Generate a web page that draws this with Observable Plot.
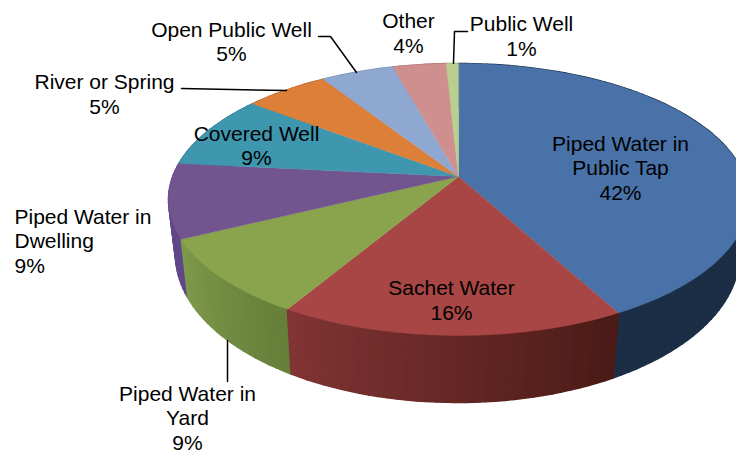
<!DOCTYPE html>
<html>
<head>
<meta charset="utf-8">
<script src="https://cdn.jsdelivr.net/npm/d3@7"></script>
<script src="https://cdn.jsdelivr.net/npm/@observablehq/plot@0.6"></script>
<style>
html,body{margin:0;padding:0;background:#fff;overflow:hidden}
svg{display:block}
</style>
</head>
<body>
<div id="chart"></div>
<script>
// Chart content
const categories = ["Piped Water in\nPublic Tap","Sachet Water","Piped Water in\nYard","Piped Water in\nDwelling","Covered Well","River or Spring","Open Public Well","Other","Public Well"];
const percentLabels = ["42%","16%","9%","9%","9%","5%","5%","4%","1%"];
const sliceShares = [42.1,16.45,9.2,8.85,8.8,5.5,4.8,3.5,0.8];

// Styling
const topColors = ["#4872a8","#a74644","#89a44c","#72548f","#3e96af","#dc7f39","#8fa8d2","#cf8f8e","#b9cf8f"];
const wallStart = ["#1b2e45","#4a1a16","#657f3a","#604789","#2f7a90","#b5662a","#7088b0","#a87070","#93a870"];
const wallEnd   = ["#1b2e45","#813534","#7f9a4b","#604789","#2f7a90","#b5662a","#7088b0","#a87070","#93a870"];

// Layout of the tilted disc, in pixels of the picture
const disc = {cx:458, cy:199, rx:290, ry:136, apexY:176};
const base = {cx:457, cy:254, rx:282, ry:148};
const labelLayout = [
  {x:620,y:167,anchor:"middle"},
  {x:451,y:299,anchor:"middle"},
  {x:187,y:417,anchor:"middle"},
  {x:14, y:240,anchor:"start"},
  {x:256,y:144.5,anchor:"middle"},
  {x:104,y:93, anchor:"middle"},
  {x:231,y:40.5,anchor:"middle"},
  {x:408,y:32, anchor:"middle"},
  {x:521,y:35, anchor:"middle"}
];
const leaderLayout = [
  [[181,88],[286,90]],
  [[318,36],[330,36],[356,72]],
  [[467,31],[454,31],[453,63]],
  [[227,340],[227,381]]
];

// Perspective mapping from the share of the pie to a point on the rim
const d = disc.apexY - disc.cy;
const c = d / disc.ry;
const a = disc.rx * Math.sqrt(1 - (d / disc.ry) ** 2);
function project(phi, r = 1) {
  const u = r * Math.sin(phi), v = -r * Math.cos(phi);
  const w = 1 + c * v;
  return {x: disc.cx + a * u / w, y: disc.cy + (disc.ry * v + d) / w};
}
function baseOf(p) {
  const th = Math.atan2((p.x - disc.cx) / disc.rx, -(p.y - disc.cy) / disc.ry);
  return {x: base.cx + base.rx * Math.sin(th), y: base.cy - base.ry * Math.cos(th)};
}

const total = d3.sum(sliceShares);
const cumulative = d3.cumsum(sliceShares);
const topPts = [], wallPts = [];
sliceShares.forEach((s, i) => {
  const end = cumulative[i] / total * 2 * Math.PI;
  const start = end - s / total * 2 * Math.PI;
  const n = Math.max(2, Math.ceil((end - start) / 0.01));
  const apex = project(0, 0);
  topPts.push({...apex, id:i, color:topColors[i]});
  for (let k = 0; k <= n; k++) {
    const p = project(start + (end - start) * k / n);
    topPts.push({...p, id:i, color:topColors[i]});
  }
  const mix = d3.interpolateRgb(wallStart[i], wallEnd[i]);
  const m = Math.max(1, Math.ceil((end - start) / 0.03));
  for (let k = 0; k < m; k++) {
    const p0 = project(start + (end - start) * k / m);
    const p1 = project(start + (end - start) * (k + 1) / m);
    const b0 = baseOf(p0), b1 = baseOf(p1);
    const color = d3.rgb(mix((k + 0.5) / m)).formatHex();
    const id = `${i}-${k}`, order = (b0.y + b1.y) / 2;
    [p0, p1, b1, b0].forEach(q => wallPts.push({...q, id, color, order}));
  }
});
wallPts.sort((p, q) => d3.ascending(p.order, q.order));

const labels = categories.map((name, i) => ({
  text: `${name}\n${percentLabels[i]}`, ...labelLayout[i]
}));
const leaders = leaderLayout.flatMap((pts, i) => pts.map(([x, y]) => ({x, y, i})));

const chart = Plot.plot({
  width: 736, height: 454,
  margin: 0,
  x: {domain: [0, 736], range: [0, 736], axis: null},
  y: {domain: [0, 454], range: [0, 454], axis: null},
  color: {type: "identity"},
  style: {background: "#fff"},
  marks: [
    Plot.line(wallPts, {x:"x", y:"y", z:"id", fill:"color", stroke:"color", strokeWidth:1.5, curve:"linear-closed"}),
    Plot.line(topPts, {x:"x", y:"y", z:"id", fill:"color", stroke:"color", strokeWidth:0.4, curve:"linear-closed"}),
    Plot.line(leaders, {x:"x", y:"y", z:"i", stroke:"#000", strokeWidth:1.5}),
    ...["start","middle"].map(anchor => Plot.text(labels.filter(l => l.anchor === anchor), {
      x:"x", y:"y", text:"text", textAnchor:anchor, lineAnchor:"middle",
      fontFamily:"'Liberation Sans', Arial, sans-serif", fontSize:21, lineHeight:1.165, fill:"#000"
    }))
  ]
});
document.getElementById("chart").append(chart);
</script>
</body>
</html>
